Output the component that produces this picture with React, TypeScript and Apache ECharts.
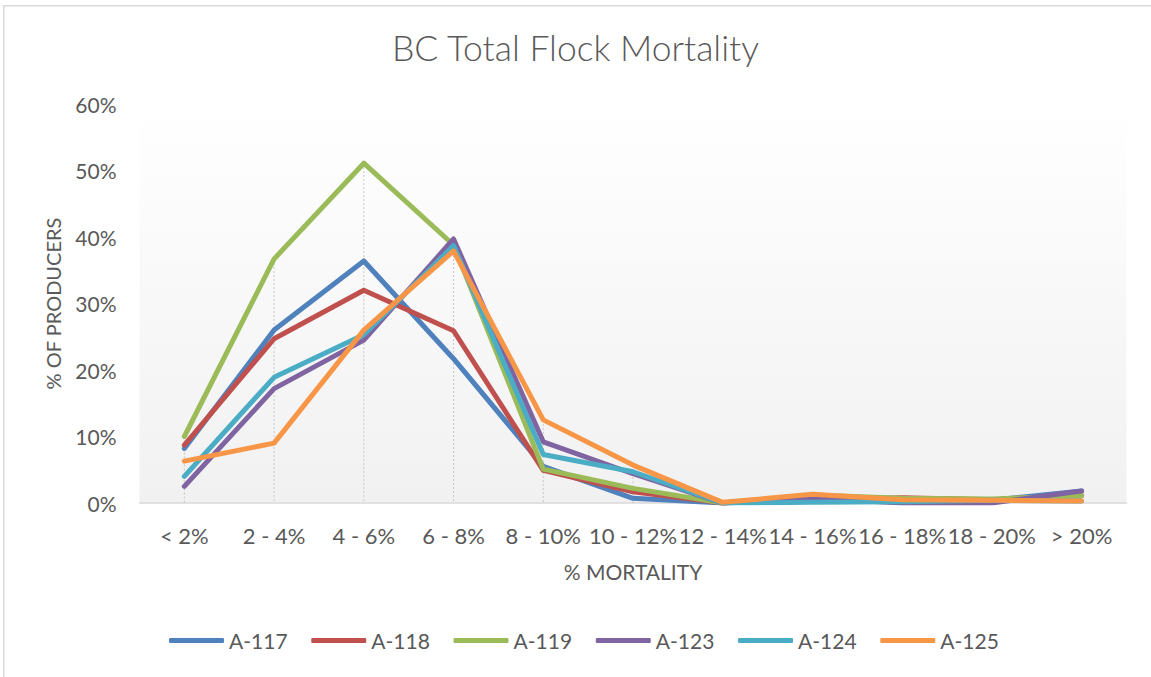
import React, { useEffect, useRef } from "react";
import * as echarts from "echarts";

const categories = ["< 2%", "2 - 4%", "4 - 6%", "6 - 8%", "8 - 10%", "10 - 12%", "12 - 14%", "14 - 16%", "16 - 18%", "18 - 20%", "> 20%"];
const a117 = [8.2, 26.0, 36.4, 21.7, 5.5, 0.7, 0, 0.7, 0.3, 0.4, 1.8];
const a118 = [8.7, 24.7, 32.0, 25.9, 4.9, 1.7, 0, 0.5, 0.8, 0.5, 1.1];
const a119 = [10.0, 36.7, 51.1, 38.8, 5.1, 2.2, 0, 1.2, 0.7, 0.6, 1.1];
const a123 = [2.5, 17.2, 24.5, 39.7, 9.2, 4.4, 0, 0.7, 0, 0, 1.8];
const a124 = [4.0, 18.9, 25.3, 38.7, 7.3, 4.7, 0, 0.1, 0.2, 0.4, 0.3];
const a125 = [6.3, 9.0, 26.0, 37.9, 12.5, 5.7, 0.1, 1.3, 0.5, 0.4, 0.3];
const yTicks = [0, 10, 20, 30, 40, 50, 60];

const seriesNames = ["A-117", "A-118", "A-119", "A-123", "A-124", "A-125"];
const seriesData = [a117, a118, a119, a123, a124, a125];
const colors = ["#4F81BD", "#C0504D", "#9BBB59", "#8064A2", "#4BACC6", "#F79646"];

const FONT = "Lato, 'Noto Sans', sans-serif";
const TXT = "#595959";

export default function App() {
  const ref = useRef<HTMLDivElement>(null);
  useEffect(() => {
    if (!ref.current) return;
    const chart = echarts.init(ref.current, undefined, { renderer: "svg" });
    const maxes = categories.map((_, i) => [i, Math.max(...seriesData.map((s) => s[i]))]);
    chart.setOption({
      animation: false,
      backgroundColor: "#ffffff",
      textStyle: { fontFamily: FONT },
      graphic: [
        {
          type: "rect",
          shape: { x: 3.75, y: 5.75, width: 1300, height: 800 },
          style: { fill: "none", stroke: "#d9d9d9", lineWidth: 1.5 },
          silent: true,
        },
      ],
      title: {
        text: "BC Total Flock Mortality",
        left: "center",
        top: 24,
        textStyle: { fontFamily: FONT, fontWeight: 300, fontSize: 35.5, color: TXT },
      },
      legend: {
        data: seriesNames,
        left: 164,
        top: 625,
        icon: "roundRect",
        itemWidth: 55,
        itemHeight: 5,
        itemGap: 23.7,
        textStyle: { fontFamily: FONT, fontSize: 21, color: TXT, width: 61 },
      },
      grid: {
        left: 139.5,
        right: 1151 - 1126.5,
        top: 104,
        bottom: 677 - 503,
        show: true,
        borderWidth: 0,
        backgroundColor: new echarts.graphic.LinearGradient(0, 0, 0, 1, [
          { offset: 0, color: "#ffffff" },
          { offset: 1, color: "#f1f1f1" },
        ]),
      },
      xAxis: {
        type: "category",
        data: categories,
        boundaryGap: true,
        name: "% MORTALITY",
        nameLocation: "middle",
        nameGap: 58,
        nameTextStyle: { fontFamily: FONT, fontSize: 21, color: TXT },
        axisLine: { lineStyle: { color: "#d9d9d9", width: 1.5 } },
        axisTick: { show: false },
        axisLabel: { interval: 0, margin: 21, fontFamily: FONT, fontSize: 22, color: TXT },
        splitLine: { show: false },
      },
      yAxis: {
        type: "value",
        min: yTicks[0],
        max: yTicks[yTicks.length - 1],
        interval: 10,
        name: "% OF PRODUCERS",
        nameLocation: "middle",
        nameGap: 77,
        nameTextStyle: { fontFamily: FONT, fontSize: 20, color: TXT },
        axisLine: { show: false },
        axisTick: { show: false },
        splitLine: { show: false },
        axisLabel: { formatter: "{value}%", margin: 23, fontFamily: FONT, fontSize: 21, color: TXT },
      },
      series: [
        {
          type: "custom",
          name: "drop",
          silent: true,
          z: 1,
          data: maxes,
          renderItem: (params: any, api: any) => {
            const top = api.coord([api.value(0), api.value(1)]);
            const bottom = api.coord([api.value(0), 0]);
            return {
              type: "line",
              shape: { x1: top[0], y1: top[1], x2: bottom[0], y2: bottom[1] },
              style: { stroke: "#c6c6c6", lineWidth: 1, lineDash: [2, 2] },
            };
          },
        },
        ...seriesNames.map((name, k) => ({
          type: "line",
          name,
          data: seriesData[k],
          symbol: "none",
          showSymbol: false,
          z: 2 + k,
          color: colors[k],
          lineStyle: { color: colors[k], width: 5, cap: "round", join: "round" },
        })),
      ],
    });
    return () => chart.dispose();
  }, []);
  return <div ref={ref} style={{ position: "absolute", left: 0, top: 0, width: 1151, height: 677 }} />;
}
